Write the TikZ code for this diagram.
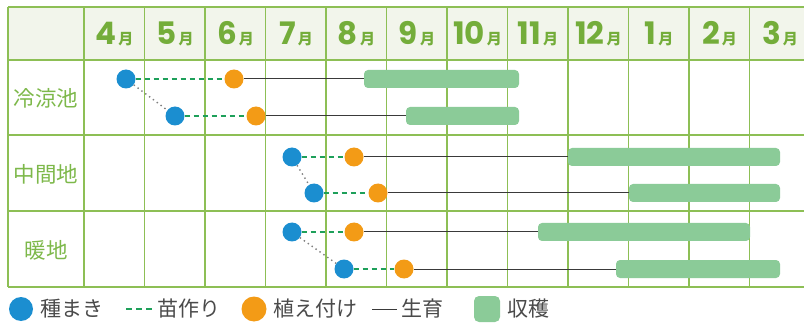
\documentclass[tikz,border=0pt]{standalone}
\usepackage{fontspec}
\usepackage{tikz}
\usetikzlibrary{positioning}

\newfontfamily\jpfont{Noto Sans CJK JP}
\newfontfamily\numfont{Poppins}

\definecolor{gridgreen}{HTML}{8DBF55}
\definecolor{headbg}{HTML}{F2F5EB}
\definecolor{headgreen}{HTML}{74AD3A}
\definecolor{labelgreen}{HTML}{7DB84A}
\definecolor{seedblue}{HTML}{1B8ED0}
\definecolor{plantorange}{HTML}{F39B16}
\definecolor{harvestgreen}{HTML}{8BCB98}
\definecolor{nurserygreen}{HTML}{1EA05A}
\definecolor{growthgray}{HTML}{3A3A3A}
\definecolor{legendgray}{HTML}{4A4A4A}

\begin{document}
\begin{tikzpicture}[x=1pt,y=-1pt,
    gridline/.style={draw=gridgreen,line width=1.5pt},
    seed/.style={circle,fill=seedblue,minimum size=19pt,inner sep=0pt},
    plant/.style={circle,fill=plantorange,minimum size=19pt,inner sep=0pt},
    harvest/.style={rectangle,rounded corners=4pt,fill=harvestgreen,minimum height=18pt,inner sep=0pt},
    nursery/.style={draw=nurserygreen,line width=1.5pt,dash pattern=on 5.5pt off 3.5pt},
    growth/.style={draw=growthgray,line width=1pt},
    lag/.style={draw=gray,line width=1.4pt,dash pattern=on 1.4pt off 3.4pt},
    month/.style={text=headgreen,inner sep=0pt,anchor=base},
    rowlabel/.style={text=labelgreen,font=\jpfont\fontsize{21.5}{21.5}\selectfont,inner sep=0pt},
    legtext/.style={text=legendgray,font=\jpfont\fontsize{21}{21}\selectfont,inner sep=0pt}]
    \useasboundingbox (0,0) rectangle (804,326);

    % header and grid
    \fill[headbg] (8,7) rectangle (812,60);
    \draw[gridline] (8,7) -- (812,7);
    \foreach \y in {60,135,211,287}
        \draw[gridline] (8,\y) -- (812,\y);
    \draw[gridline] (8,7) -- (8,287);
    \foreach \i in {0,...,11}
        \draw[gridline] ({84+60.5*\i},7) -- ({84+60.5*\i},287);

    \foreach \m [count=\i from 0] in {4,5,6,7,8,9,10,11,12,1,2,3}
        \node[month] (m\m) at ({114.5+60.5*\i},45)
            {\numfont\bfseries\fontsize{31}{31}\selectfont\m\hspace{2pt}\jpfont\bfseries\fontsize{15}{15}\selectfont 月};

    \node[rowlabel] (cold) at (46,98) {冷涼池};
    \node[rowlabel] (mid) at (46,174) {中間地};
    \node[rowlabel] (warm) at (46,250) {暖地};

    % plans
    \foreach \n/\y/\s/\p/\l/\r in {a/79/126/234/364/519, b/116/175/256/406/519,
        c/157/292/354/568/780, d/193/314/378/629/780,
        e/232/292/354/538/750, f/269/344/404/616/780}{
        \node[seed] (s\n) at (\s,\y) {};
        \node[plant] (p\n) at (\p,\y) {};
        \node[harvest,minimum width={\r-\l}] (h\n) at ({(\l+\r)/2},\y) {};
        \draw[nursery] (s\n) -- (p\n);
        \draw[growth] (p\n) -- (h\n);
    }
    \draw[lag] (sa) -- (sb);
    \draw[lag] (sc) -- (sd);
    \draw[lag] (se) -- (sf);

    % legend
    \node[seed,minimum size=24pt] (lseed) at (21,309) {};
    \node[legtext,right=7pt of lseed] (tseed) {種まき};
    \coordinate (lnurs1) at (126,309);
    \coordinate (lnurs2) at (152,309);
    \draw[nursery,dash pattern=on 6pt off 4pt] (lnurs1) -- (lnurs2);
    \node[legtext,right=5pt of lnurs2] (tnurs) {苗作り};
    \node[plant,minimum size=25pt] (lplant) at (254,309) {};
    \node[legtext,right=7pt of lplant] (tplant) {植え付け};
    \coordinate (lgrow1) at (372,309);
    \coordinate (lgrow2) at (397,309);
    \draw[growth] (lgrow1) -- (lgrow2);
    \node[legtext,right=4pt of lgrow2] (tgrow) {生育};
    \node[harvest,minimum width=26pt,minimum height=26pt,rounded corners=5pt] (lharv) at (487,309) {};
    \node[legtext,right=7pt of lharv] (tharv) {収穫};
\end{tikzpicture}
\end{document}
